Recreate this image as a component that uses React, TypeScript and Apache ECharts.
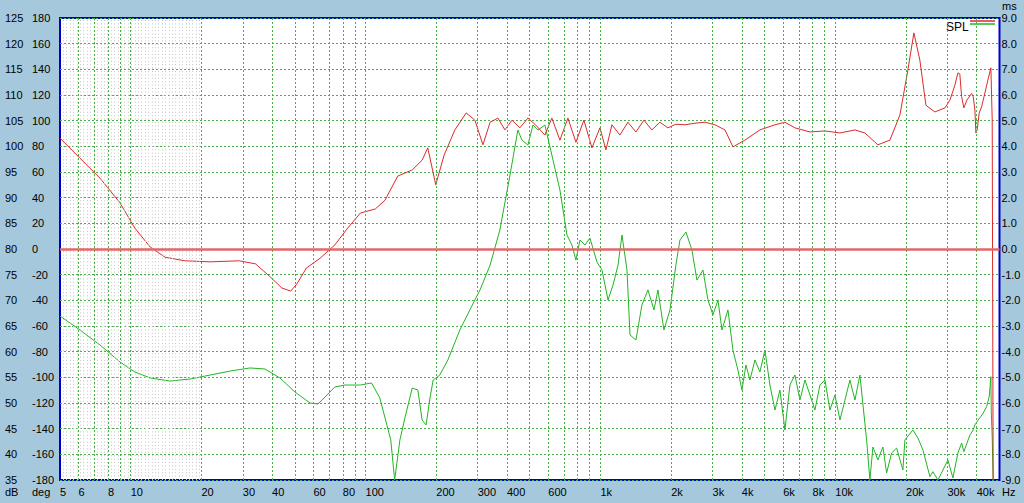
import React, { useEffect, useRef } from "react";
import * as echarts from "echarts";

const FONT = '"Liberation Sans", Arial, sans-serif';
const FS = 11;

// SPL (red), frequency in Hz and level in dB
const redFreq = [
  5, 6.08, 7.4, 9.0, 10.4, 12.1, 14, 17, 21.8, 29, 34, 39, 44, 48, 51, 56, 64, 74, 84, 95,
  110, 121, 137, 158, 174, 184, 199, 216, 240, 268, 292, 316, 339, 366, 392, 420, 454, 491, 526, 580,
  621, 672, 727, 786, 850, 920, 995, 1055, 1119, 1210, 1309, 1416, 1531, 1656, 1791, 1937, 2095, 2290, 2525, 2785,
  3070, 3390, 3665, 4120, 4775, 5535, 6100, 6730, 7800, 9035, 10465, 12120, 13365, 15175, 17070, 18835, 20370, 21600, 22905, 24305,
  26545, 29305, 30750, 32285, 33255, 33885, 34490, 35260, 36325, 38025, 38630, 39285, 39670, 40175, 40975, 41950, 43335, 44620, 45950, 46550,
  46980,
];
const redSpl = [
  101.6, 97.7, 93.8, 89.0, 84.1, 80.4, 78.4, 77.7, 77.5, 77.7, 77.1, 74.7, 72.4, 71.8, 73.2, 76.3, 78.2, 80.8, 84.1, 87.0,
  87.8, 89.5, 94.2, 95.4, 97.3, 99.7, 92.5, 98.3, 103.2, 106.5, 105.1, 100.3, 104.7, 105.5, 103.2, 105.1, 103.6, 105.5, 104.3, 102.2,
  105.5, 101.2, 105.5, 100.8, 105.1, 99.7, 103.6, 99.3, 104.2, 102.2, 104.7, 102.8, 105.1, 103.2, 104.7, 103.6, 104.3, 104.2, 104.5, 104.7,
  104.2, 103.2, 99.9, 101.2, 103.2, 104.2, 104.7, 103.6, 102.8, 103.0, 102.6, 103.2, 102.6, 100.3, 101.2, 106.1, 114.9, 122.1, 116.8, 108.0,
  106.7, 107.5, 109.0, 111.9, 114.3, 114.1, 109.7, 107.5, 109.0, 110.3, 109.7, 107.1, 102.6, 103.2, 106.5, 107.7, 110.4, 112.9, 115.3, 105.1,
  35,
];

// Phase (green), frequency in Hz and angle in degrees
const greenFreq = [
  5, 6.08, 7.4, 9.0, 10.4, 12.1, 14.7, 17.9, 21.8, 26.5, 32.2, 37.3, 43.2, 50, 58, 62.7, 67.2, 74, 81.7, 95,
  106, 115, 128, 133, 140, 147, 158, 167, 174, 181, 188, 194, 207, 224, 252, 278, 307, 339, 373, 412,
  445, 463, 491, 516, 542, 580, 621, 672, 720, 756, 786, 818, 859, 902, 966, 1015, 1077, 1131, 1188, 1235,
  1297, 1336, 1416, 1502, 1593, 1690, 1757, 1863, 1977, 2095, 2180, 2312, 2452, 2575, 2732, 2869, 3013, 3165, 3291, 3490,
  3665, 3848, 4003, 4163, 4329, 4547, 4775, 5015, 5266, 5535, 5809, 6100, 6408, 6730, 7068, 7423, 7800, 8187, 8597, 9035,
  9484, 9960, 10465, 10989, 11537, 12120, 12724, 13590, 14035, 14455, 15180, 15945, 16535, 17360, 18235, 19395, 19780, 21390, 22470, 23605,
  25275, 26030, 27340, 28715, 30150, 31665, 33255, 34490, 35260, 37410, 38630, 39285, 40575, 41550, 42625, 44065, 45200, 45830, 45950, 46140,
  46550, 46980,
];
const greenPhase = [
  -52.2, -63.1, -74.8, -88.0, -95.8, -100.5, -102.9, -101.3, -98.2, -95.1, -92.7, -93.5, -100.5, -111.4, -120.0, -120.8, -115.3, -107.5, -106.0, -106.0,
  -104.4, -116.1, -148.8, -180, -148.8, -131.7, -108.3, -109.9, -133.2, -137.1, -116.1, -102.1, -98.2, -86.5, -63.1, -47.5, -31.9, -12.5, 14.8, 57.7,
  92.7, 84.9, 81.0, 96.6, 92.7, 96.6, 73.2, 46.0, 10.9, 3.1, -8.6, 7.0, 3.1, 8.6, -10.1, -16.4, -39.7, -28.1, -12.5, 10.9,
  -16.4, -67.0, -70.9, -43.6, -31.9, -47.5, -31.9, -63.1, -47.5, -12.5, 7.0, 13.2, -0.8, -24.2, -16.4, -39.7, -51.4, -39.7, -63.1, -47.5,
  -78.7, -94.3, -109.9, -90.4, -102.1, -86.5, -95.8, -78.7, -106.0, -125.5, -109.9, -141.0, -106.0, -98.2, -117.7, -102.1, -113.8, -125.5, -106.0, -102.1,
  -125.5, -113.8, -133.2, -117.7, -102.1, -117.7, -98.2, -148.8, -180, -154.3, -164.4, -154.3, -174.5, -159, -155.1, -172.2, -148.8, -141, -147.3, -156.6,
  -177.4, -173.5, -180, -172.2, -164.4, -178.4, -159, -151.2, -157.9, -144.9, -141, -137.1, -133.2, -130.7, -127.8, -122.9, -115.1, -102.1, -99.5, -127.8,
  -146.3, -180,
];

// Axis tick labels
const xLabelFreqs = [5, 6, 8, 10, 20, 30, 40, 60, 80, 100, 200, 300, 400, 600, 1000, 2000, 3000, 4000, 6000, 8000, 10000, 20000, 30000, 40000];
const decades = [1, 10, 100, 1000, 10000];
const multipliers = [1, 2, 3, 4, 5, 6, 7, 8, 9];

const X_MIN = 5;
const X_MAX = 50000;

function fmtFreq(f: number): string {
  return f >= 1000 ? `${f / 1000}k` : `${f}`;
}

export default function App() {
  const ref = useRef<HTMLDivElement>(null);

  useEffect(() => {
    document.body.style.margin = "0";
    if (!ref.current) return;
    const chart = echarts.init(ref.current, null, { renderer: "svg" });

    const gridFreqs: number[] = [];
    decades.forEach((d) =>
      multipliers.forEach((m) => {
        const f = d * m;
        if (f > X_MIN && f < X_MAX) gridFreqs.push(f);
      })
    );

    // fine stipple decoration between 5 Hz and 20 Hz
    const stipple: number[] = [];
    for (let k = 1; k < 60; k++) {
      const f = X_MIN * Math.pow(10, (k * 3.4) / 234.9);
      if (f >= 19.7) break;
      stipple.push(f);
    }

    const markData: any[] = [];
    stipple.forEach((f) =>
      markData.push({
        xAxis: f,
        lineStyle: { color: "#c6c6c6", width: 1, type: [1, 2.4] },
      })
    );
    gridFreqs.forEach((f) =>
      markData.push({
        xAxis: f,
        lineStyle: { color: "#48b048", width: 1, type: [2, 2] },
      })
    );
    markData.push({
      yAxis: 80,
      lineStyle: { color: "#e06868", width: 2.5, type: "solid" },
    });

    const option: any = {
      animation: false,
      backgroundColor: "transparent",
      grid: {
        left: 60,
        right: 24.5,
        top: 18,
        bottom: 23,
        show: true,
        backgroundColor: "#ffffff",
        borderColor: "#0000cc",
        borderWidth: 2,
      },
      xAxis: {
        type: "log",
        logBase: 10,
        min: X_MIN,
        max: X_MAX,
        axisLine: { show: false },
        axisTick: { show: false },
        axisLabel: { show: false },
        splitLine: { show: false },
        minorSplitLine: { show: false },
      },
      yAxis: [
        {
          type: "value",
          min: 35,
          max: 125,
          interval: 5,
          position: "left",
          axisLine: { show: false },
          axisTick: { show: false },
          axisLabel: { align: "left", margin: 55, color: "#000", fontSize: FS, fontFamily: FONT },
          splitLine: { show: true, lineStyle: { color: "#48b048", width: 1, type: [2, 2] } },
        },
        {
          type: "value",
          min: -180,
          max: 180,
          interval: 20,
          position: "left",
          axisLine: { show: false },
          axisTick: { show: false },
          axisLabel: { align: "left", margin: 28, color: "#000", fontSize: FS, fontFamily: FONT },
          splitLine: { show: false },
        },
        {
          type: "value",
          min: -9,
          max: 9,
          interval: 1,
          position: "right",
          axisLine: { show: false },
          axisTick: { show: false },
          axisLabel: {
            align: "left",
            margin: 2,
            color: "#000",
            fontSize: FS,
            fontFamily: FONT,
            formatter: (v: number) => v.toFixed(1),
          },
          splitLine: { show: false },
        },
      ],
      series: [
        {
          type: "line",
          name: "grid",
          data: [],
          z: 1,
          silent: true,
          markLine: {
            silent: true,
            symbol: ["none", "none"],
            label: { show: false },
            animation: false,
            data: markData,
          },
        },
        {
          type: "line",
          name: "Phase",
          yAxisIndex: 1,
          data: greenFreq.map((f, i) => [f, greenPhase[i]]),
          showSymbol: false,
          symbol: "none",
          z: 3,
          lineStyle: { color: "#22b422", width: 1 },
        },
        {
          type: "line",
          name: "SPL",
          yAxisIndex: 0,
          data: redFreq.map((f, i) => [f, redSpl[i]]),
          showSymbol: false,
          symbol: "none",
          z: 4,
          lineStyle: { color: "#dc2a2a", width: 1 },
        },
      ],
    };

    chart.setOption(option);

    const textStyle = (text: string, align = "left") => ({
      text,
      fill: "#000",
      font: `${FS}px ${FONT}`,
      align,
      verticalAlign: "middle",
    });

    const graphics: any[] = [
      { type: "text", x: 5, y: 492, style: textStyle("dB") },
      { type: "text", x: 32, y: 492, style: textStyle("deg") },
      { type: "text", x: 1002, y: 492, style: textStyle("Hz") },
      { type: "text", x: 1002, y: 6, style: textStyle("ms") },
      { type: "text", x: 946, y: 27, style: { ...textStyle("SPL"), font: `12px ${FONT}` } },
      { type: "line", shape: { x1: 970, y1: 21, x2: 995, y2: 21 }, style: { stroke: "#dc2a2a", lineWidth: 1.5 } },
      { type: "line", shape: { x1: 970, y1: 24, x2: 995, y2: 24 }, style: { stroke: "#22b422", lineWidth: 1.5 } },
    ];
    xLabelFreqs.forEach((f) => {
      const px = chart.convertToPixel({ xAxisIndex: 0 }, f) as number;
      graphics.push({ type: "text", x: px, y: 492, style: textStyle(fmtFreq(f)) });
    });
    chart.setOption({ graphic: graphics });

    return () => chart.dispose();
  }, []);

  return (
    <div
      style={{
        position: "absolute",
        left: 0,
        top: 0,
        width: 1024,
        height: 503,
        background: "#a6c8dc",
      }}
    >
      <div ref={ref} style={{ width: 1024, height: 503 }} />
    </div>
  );
}
